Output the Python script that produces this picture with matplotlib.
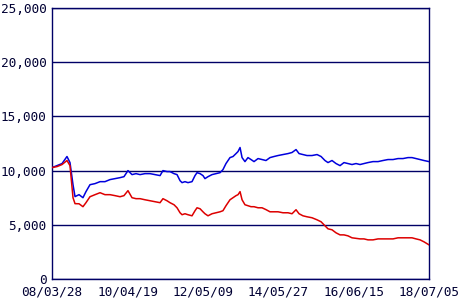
import datetime as dt
import matplotlib
matplotlib.use('Agg')
import matplotlib.pyplot as plt
import matplotlib.dates as mdates
from matplotlib.ticker import FuncFormatter

start = dt.date(2008, 3, 28)
#days since start
days = [0, 50, 100, 149, 179, 209, 229, 269, 308, 338, 378, 428, 478, 527, 577, 627, 677, 716,
        756, 796, 836, 876, 925, 975, 1025, 1075, 1104, 1144, 1174, 1214, 1244, 1274, 1294, 1323,
        1353, 1393, 1423, 1443, 1473, 1502, 1522, 1552, 1592, 1632, 1672, 1701, 1731, 1771, 1801,
        1831, 1851, 1871, 1891, 1920, 1950, 1980, 2010, 2050, 2090, 2129, 2169, 2209, 2249, 2298,
        2348, 2388, 2428, 2458, 2497, 2537, 2587, 2637, 2677, 2716, 2746, 2786, 2826, 2866, 2905,
        2945, 2985, 3025, 3065, 3104, 3144, 3194, 3244, 3293, 3343, 3393, 3443, 3492, 3542, 3582,
        3622, 3662, 3701, 3751]

blue = [10280, 10460, 10650, 11300, 10740, 8700, 7600, 7780, 7500, 8060, 8700, 8800, 8980, 8980,
        9170, 9260, 9350, 9440, 10000, 9630, 9720, 9630, 9720, 9720, 9630, 9540, 10000, 9910,
        9910, 9720, 9630, 9070, 8890, 8980, 8890, 8980, 9540, 9810, 9720, 9540, 9260, 9440, 9630,
        9720, 9810, 10090, 10650, 11200, 11300, 11570, 11760, 12130, 11200, 10830, 11200, 11020,
        10830, 11110, 11020, 10930, 11200, 11300, 11390, 11480, 11570, 11670, 11940, 11570, 11480,
        11390, 11390, 11480, 11300, 10930, 10740, 10930, 10650, 10460, 10740, 10650, 10560, 10650,
        10560, 10650, 10740, 10830, 10830, 10930, 11020, 11020, 11110, 11110, 11200, 11200, 11110,
        11020, 10930, 10830]

red = [10280, 10370, 10560, 10930, 10460, 7500, 6950, 6940, 6670, 7040, 7590, 7780, 7960, 7780,
       7780, 7690, 7590, 7690, 8150, 7500, 7410, 7410, 7310, 7220, 7130, 7040, 7410, 7220, 7040,
       6850, 6570, 6110, 5930, 6020, 5930, 5830, 6300, 6570, 6480, 6200, 6020, 5830, 6020, 6110,
       6200, 6300, 6760, 7310, 7500, 7690, 7780, 8060, 7310, 6850, 6760, 6670, 6670, 6570, 6570,
       6400, 6200, 6200, 6200, 6110, 6110, 6020, 6390, 6020, 5830, 5740, 5650, 5460, 5280, 4910,
       4630, 4540, 4260, 4070, 4070, 3980, 3800, 3750, 3700, 3700, 3610, 3610, 3700, 3700, 3700,
       3700, 3800, 3800, 3800, 3800, 3700, 3610, 3430, 3150]

tick_dates = ['2008-03-28', '2010-04-19', '2012-05-09', '2014-05-27', '2016-06-15', '2018-07-05']
yticks = [0, 5000, 10000, 15000, 20000, 25000]

navy = '#000066'
txt = '#000033'
plt.rcParams['font.family'] = ['DejaVu Sans Mono']

x = [start + dt.timedelta(days=d) for d in days]
tx = [dt.datetime.strptime(s, '%Y-%m-%d').date() for s in tick_dates]

fig = plt.figure(figsize=(4.7, 3.0), dpi=100)
ax = fig.add_axes([52/470, 21/300, 377/470, 271/300])

for v in yticks:
    ax.axhline(v, color=navy, lw=1.0, zorder=1)
ax.plot(x, blue, color='#0000dd', lw=1.1, zorder=3)
ax.plot(x, red, color='#dd0000', lw=1.1, zorder=3)

ax.set_xlim(tx[0], tx[-1])
ax.set_ylim(0, 25000)
ax.set_yticks(yticks)
ax.yaxis.set_major_formatter(FuncFormatter(lambda v, p: '{:,}'.format(int(v))))
ax.set_xticks(tx)
ax.xaxis.set_major_formatter(mdates.DateFormatter('%y/%m/%d'))
ax.tick_params(length=0, labelsize=9.2, colors=txt)
ax.tick_params(axis='y', pad=4)
ax.tick_params(axis='x', pad=5)
for s in ax.spines.values():
    s.set_color(navy)
    s.set_linewidth(1.0)

fig.savefig('out.png', dpi=100)
